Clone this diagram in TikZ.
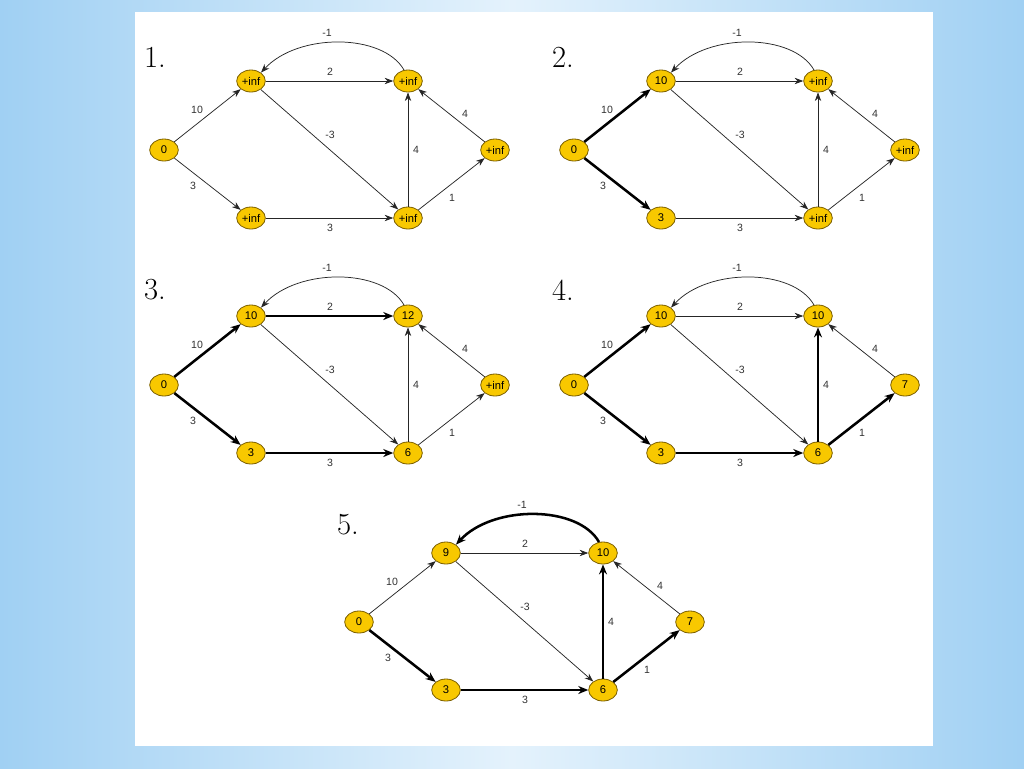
\documentclass[tikz,border=0pt]{standalone}
\usepackage{fontspec}
\setsansfont{Liberation Sans}
\usetikzlibrary{shapes.geometric,arrows.meta}
\definecolor{bgA}{HTML}{A0D0F3}
\definecolor{bgB}{HTML}{E4F2FC}
\definecolor{gold}{HTML}{F8C800}
\definecolor{goldedge}{HTML}{7A5E00}
\definecolor{lab}{HTML}{333333}
\tikzset{
  vtx/.style={ellipse, draw=goldedge, line width=0.6pt, fill=gold, minimum width=21.5pt, minimum height=16.5pt, inner sep=0pt, font=\sffamily\fontsize{8.4}{9}\selectfont},
  elab/.style={font=\sffamily\fontsize{7.9}{9}\selectfont, text=lab, inner sep=0pt},
  numlab/.style={font=\fontsize{23}{23}\selectfont, inner sep=0pt},
  thinedge/.style={draw=black!85, line width=0.55pt, -{Stealth[length=6.5pt,width=4.8pt]}},
  boldedge/.style={draw=black, line width=1.9pt, -{Stealth[length=7.5pt,width=6pt]}},
}
\newcommand\dgraph[8]{%
\begin{scope}[shift={(#2,#3)}]
  \node[vtx] (#1s) at (0,0) {0};
  \node[vtx] (#1a) at (87,-69) {#4};
  \node[vtx] (#1b) at (87,68) {#5};
  \node[vtx] (#1c) at (244,-69) {#6};
  \node[vtx] (#1d) at (244,68) {#7};
  \node[vtx] (#1e) at (331,0) {#8};
  \draw[esa] (#1s) -- (#1a);
  \draw[esb] (#1s) -- (#1b);
  \draw[eac] (#1a) -- (#1c);
  \draw[ead] (#1a) -- (#1d);
  \draw[ebd] (#1b) -- (#1d);
  \draw[edc] (#1d) -- (#1c);
  \draw[ede] (#1d) -- (#1e);
  \draw[eec] (#1e) -- (#1c);
  \draw[eca] (#1c.110) .. controls +(-21,-37) and +(37,-40) .. (#1a.40);
  \node[elab] (#1l1) at (33,-40) {10};
  \node[elab] (#1l2) at (29,36) {3};
  \node[elab] (#1l3) at (166,-78) {2};
  \node[elab] (#1l4) at (166,-15) {-3};
  \node[elab] (#1l5) at (166,78) {3};
  \node[elab] (#1l6) at (252,0) {4};
  \node[elab] (#1l7) at (288,48) {1};
  \node[elab] (#1l8) at (301,-36) {4};
  \node[elab] (#1l9) at (163,-117) {-1};
\end{scope}}
\begin{document}
\begin{tikzpicture}[x=0.75pt,y=-0.75pt]
\useasboundingbox (0,0) rectangle (1024,768);
\shade[left color=bgA, right color=bgA, middle color=bgB] (0,0) rectangle (1024,768);
\fill[white] (135,12) rectangle (933,746);
% graph 1
\tikzset{esa/.style=thinedge, esb/.style=thinedge, eac/.style=thinedge, ead/.style=thinedge, ebd/.style=thinedge, edc/.style=thinedge, ede/.style=thinedge, eec/.style=thinedge, eca/.style=thinedge}
\node[numlab] (n1) at (155,57) {1.};
\dgraph{g1}{164}{150}{+inf}{+inf}{+inf}{+inf}{+inf}
% graph 2
\tikzset{esa/.style=boldedge, esb/.style=boldedge}
\node[numlab] (n2) at (563,57) {2.};
\dgraph{g2}{574}{150}{10}{3}{+inf}{+inf}{+inf}
% graph 3
\tikzset{eac/.style=boldedge, ebd/.style=boldedge}
\node[numlab] (n3) at (155,290) {3.};
\dgraph{g3}{164}{385}{10}{3}{12}{6}{+inf}
% graph 4
\tikzset{eac/.style=thinedge, edc/.style=boldedge, ede/.style=boldedge}
\node[numlab] (n4) at (563,290) {4.};
\dgraph{g4}{574}{385}{10}{3}{10}{6}{7}
% graph 5
\tikzset{esa/.style=thinedge, eca/.style=boldedge}
\node[numlab] (n5) at (348,525) {5.};
\dgraph{g5}{359}{622}{9}{3}{10}{6}{7}
\end{tikzpicture}
\end{document}
